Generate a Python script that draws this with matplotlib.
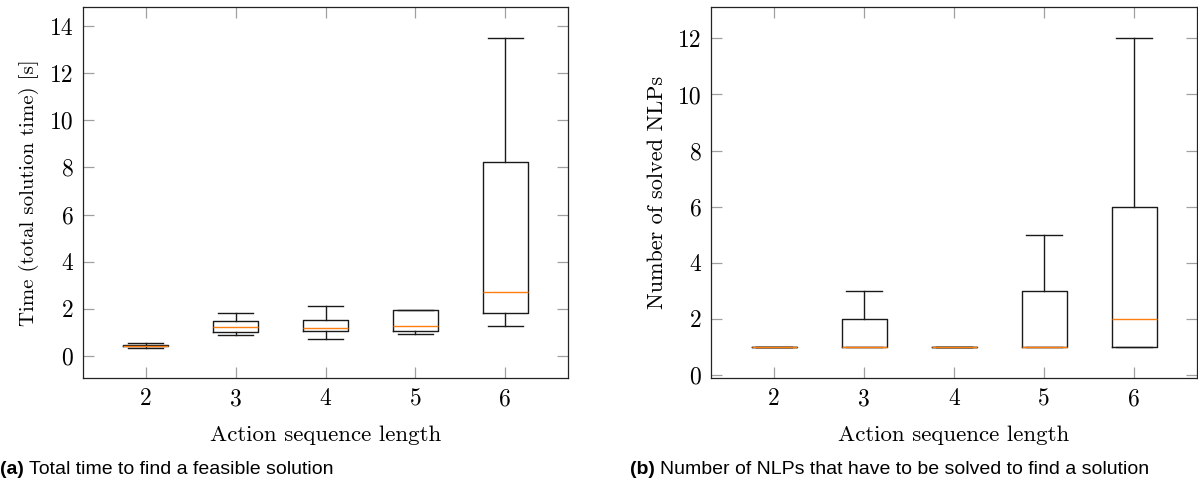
import matplotlib
matplotlib.use('Agg')
import matplotlib.pyplot as plt

# Action sequence lengths (x categories)
lengths = [2, 3, 4, 5, 6]

# (a) total solution time [s] - box statistics
time_whislo = [0.35, 0.90, 0.72, 0.92, 1.26]
time_q1 = [0.40, 1.00, 1.06, 1.06, 1.84]
time_med = [0.44, 1.22, 1.19, 1.27, 2.72]
time_q3 = [0.48, 1.47, 1.54, 1.94, 8.24]
time_whishi = [0.54, 1.84, 2.11, 1.94, 13.5]

# (b) number of solved NLPs
nlp_whislo = [1, 1, 1, 1, 1]
nlp_q1 = [1, 1, 1, 1, 1]
nlp_med = [1, 1, 1, 1, 2]
nlp_q3 = [1, 2, 1, 3, 6]
nlp_whishi = [1, 3, 1, 5, 12]

W, H = 1198, 483
fig = plt.figure(figsize=(W / 100, H / 100), dpi=100)

SERIF = 'cmr10'
TICK_GRAY = '#a0a0a0'


def make_stats(lo, q1, med, q3, hi):
    return [dict(whislo=a, q1=b, med=c, q3=d, whishi=e, fliers=[])
            for a, b, c, d, e in zip(lo, q1, med, q3, hi)]


def draw_panel(ax, stats, ylim, yticks, ylabel, ylabel_size):
    ax.bxp(stats, positions=lengths, widths=0.5, capwidths=0.39,
           showfliers=False,
           boxprops=dict(color='#1a1a1a', linewidth=1.0),
           whiskerprops=dict(color='#1a1a1a', linewidth=1.0),
           capprops=dict(color='#1a1a1a', linewidth=1.0),
           medianprops=dict(color='#ff7f0e', linewidth=1.0))
    ax.set_xlim(1.3, 6.7)
    ax.set_ylim(*ylim)
    ax.set_xticks(lengths)
    ax.set_xticklabels([str(v) for v in lengths])
    ax.set_yticks(yticks)
    ax.set_yticklabels([str(v) for v in yticks])
    ax.tick_params(direction='in', length=7.8, width=0.9, color=TICK_GRAY,
                   top=True, right=True, labelsize=17, pad=7)
    for lab in ax.get_xticklabels() + ax.get_yticklabels():
        lab.set_fontfamily(SERIF)
    for sp in ax.spines.values():
        sp.set_linewidth(0.9)
        sp.set_color('#222222')
    ax.set_xlabel('Action sequence length', fontfamily=SERIF, fontsize=16.5,
                  labelpad=11)
    ax.set_ylabel(ylabel, fontfamily=SERIF, fontsize=ylabel_size, labelpad=8)


bottom = 1 - 378.3 / H
height = (378.3 - 6.7) / H

ax1 = fig.add_axes([83 / W, bottom, 485 / W, height])
draw_panel(ax1, make_stats(time_whislo, time_q1, time_med, time_q3, time_whishi),
           (-0.95, 14.82), list(range(0, 15, 2)), 'Time (total solution time) [s]', 15)

ax2 = fig.add_axes([711 / W, bottom, 486 / W, height])
draw_panel(ax2, make_stats(nlp_whislo, nlp_q1, nlp_med, nlp_q3, nlp_whishi),
           (-0.12, 13.13), list(range(0, 13, 2)), 'Number of solved NLPs', 16)

# captions: bold tag followed by normal text
cap_y = 1 - 470 / H
cap_font = 'Liberation Sans'
cap_size = 14
renderer = fig.canvas.get_renderer()


def caption(x_px, tag, text):
    t = fig.text(x_px / W, cap_y, tag, fontfamily=cap_font, fontsize=cap_size,
                 fontweight='bold', va='center', ha='left')
    bb = t.get_window_extent(renderer)
    fig.text((bb.x1 + 5) / W, cap_y, text, fontfamily=cap_font,
             fontsize=cap_size, va='center', ha='left')


caption(0, '(a)', 'Total time to find a feasible solution')
caption(630, '(b)', 'Number of NLPs that have to be solved to find a solution')

fig.savefig('out.png', dpi=100)
